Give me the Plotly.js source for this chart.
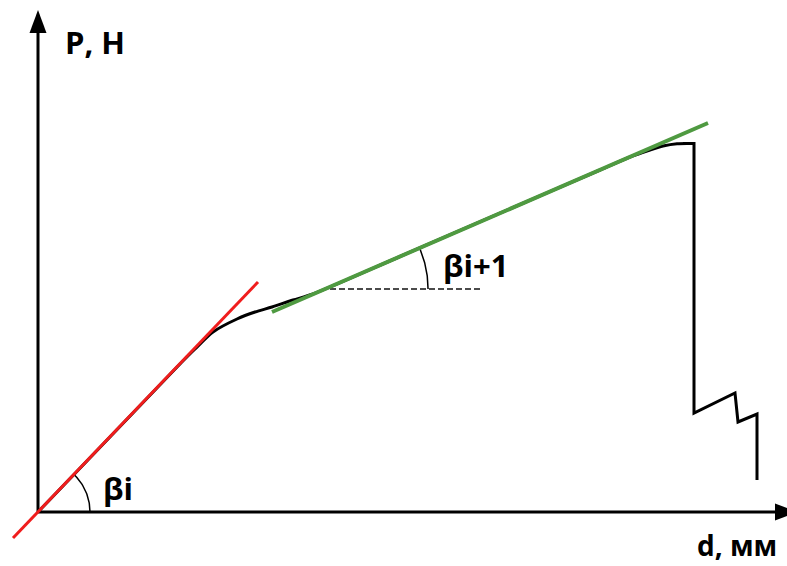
<!DOCTYPE html>
<html>
<head>
<meta charset="utf-8">
<script src="https://cdn.plot.ly/plotly-3.0.1.min.js"></script>
<style>
  html, body { margin: 0; padding: 0; background: #ffffff; }
  #chart { width: 787px; height: 566px; }
</style>
</head>
<body>
<div id="chart"></div>
<script>
// Load–displacement diagram: elastic part, hardening part, then fracture.
// Units are schematic (no ticks are drawn).

// Smooth part of the P(d) curve
const curveD = [0, 140, 157, 175, 199, 217, 234, 255, 275, 362, 462, 562, 592, 612, 625, 639, 656];
const curveP = [0, 146, 163, 180, 193, 200, 205, 212, 218, 255.5, 298.8, 342, 355, 362, 366, 368.3, 368.5];

// Plateau end, drop at fracture and the broken tail
const dropD = [645, 656, 656, 697, 700, 719, 719];
const dropP = [368.5, 368.5, 99, 119, 90, 98, 32];

// Tangent to the initial (elastic) section
const tanAD = [-25, 220];
const tanAP = [-26, 230];

// Tangent to the hardening section
const tanBD = [234, 670];
const tanBP = [200, 389];

// Horizontal reference for the second angle
const refD = [292, 444];
const refP = [223, 223];

// Angle labels and axis titles
const labelBetaI = 'βi';
const labelBetaI1 = 'βi+1';
const yTitle = 'P, Н';
const xTitle = 'd, мм';

// Axis extents
const xAxisEnd = 760;
const yAxisEnd = 502;

// ---- helpers ----
function arcPoints(cx, cy, r, a0, a1, n) {
  const xs = [], ys = [];
  for (let k = 0; k <= n; k++) {
    const a = a0 + (a1 - a0) * k / n;
    xs.push(cx + r * Math.cos(a));
    ys.push(cy + r * Math.sin(a));
  }
  return {x: xs, y: ys};
}

const angA = Math.atan2(tanAP[1] - tanAP[0], tanAD[1] - tanAD[0]);
const slopeB = (tanBP[1] - tanBP[0]) / (tanBD[1] - tanBD[0]);
const angB = Math.atan(slopeB);
// Vertex of the second angle: where the hardening tangent meets the horizontal reference
const vertexBD = tanBD[0] + (refP[0] - tanBP[0]) / slopeB;
const vertexBP = refP[0];

const arcA = arcPoints(0, 0, 52, 0, angA, 40);
const arcB = arcPoints(vertexBD, vertexBP, 103, 0, angB, 40);

const traces = [
  {x: curveD, y: curveP, mode: 'lines', line: {color: '#000000', width: 3, shape: 'spline', smoothing: 0.8}, hoverinfo: 'skip'},
  {x: dropD, y: dropP, mode: 'lines', line: {color: '#000000', width: 3}, hoverinfo: 'skip'},
  {x: refD, y: refP, mode: 'lines', line: {color: '#111111', width: 1.5, dash: '6px,3px'}, hoverinfo: 'skip'},
  {x: arcA.x, y: arcA.y, mode: 'lines', line: {color: '#000000', width: 1.5}, hoverinfo: 'skip'},
  {x: arcB.x, y: arcB.y, mode: 'lines', line: {color: '#000000', width: 1.5}, hoverinfo: 'skip'},
  {x: tanAD, y: tanAP, mode: 'lines', line: {color: '#f01d1d', width: 3}, hoverinfo: 'skip'},
  {x: tanBD, y: tanBP, mode: 'lines', line: {color: '#4f9a41', width: 4}, hoverinfo: 'skip'}
];

const fontFamily = '"Open Sans", "DejaVu Sans", sans-serif';
const labelFont = {family: fontFamily, size: 31, color: '#000000', weight: 'bold'};
const xTitleFont = {family: fontFamily, size: 28, color: '#000000', weight: 'bold'};

const layout = {
  width: 787,
  height: 566,
  margin: {l: 0, r: 0, t: 0, b: 0, pad: 0},
  paper_bgcolor: '#ffffff',
  plot_bgcolor: '#ffffff',
  showlegend: false,
  xaxis: {range: [-38, 749], visible: false, fixedrange: true},
  yaxis: {range: [-54, 512], visible: false, fixedrange: true},
  shapes: [
    // axes
    {type: 'line', xref: 'x', yref: 'y', x0: 0, y0: 0, x1: xAxisEnd - 20, y1: 0, line: {color: '#000000', width: 3}, layer: 'below'},
    {type: 'line', xref: 'x', yref: 'y', x0: 0, y0: 0, x1: 0, y1: yAxisEnd - 20, line: {color: '#000000', width: 3}, layer: 'below'},
    // arrowheads
    {type: 'path', xref: 'x', yref: 'y', layer: 'below',
     path: 'M ' + (xAxisEnd - 23) + ',-8.5 L ' + (xAxisEnd - 23) + ',8.5 L ' + xAxisEnd + ',0 Z',
     fillcolor: '#000000', line: {width: 0}},
    {type: 'path', xref: 'x', yref: 'y', layer: 'below',
     path: 'M -8.5,' + (yAxisEnd - 23) + ' L 8.5,' + (yAxisEnd - 23) + ' L 0,' + yAxisEnd + ' Z',
     fillcolor: '#000000', line: {width: 0}}
  ],
  annotations: [
    {text: yTitle, xref: 'x', yref: 'y', x: 25, y: 470.5, xanchor: 'left', yanchor: 'middle', showarrow: false, font: labelFont},
    {text: xTitle, xref: 'x', yref: 'y', x: 741, y: -33, xanchor: 'right', yanchor: 'middle', showarrow: false, font: xTitleFont},
    {text: labelBetaI, xref: 'x', yref: 'y', x: 63, y: 24, xanchor: 'left', yanchor: 'middle', showarrow: false, font: labelFont},
    {text: labelBetaI1, xref: 'x', yref: 'y', x: 403, y: 247, xanchor: 'left', yanchor: 'middle', showarrow: false, font: labelFont}
  ]
};

Plotly.newPlot('chart', traces, layout, {displayModeBar: false, staticPlot: true});
</script>
</body>
</html>
